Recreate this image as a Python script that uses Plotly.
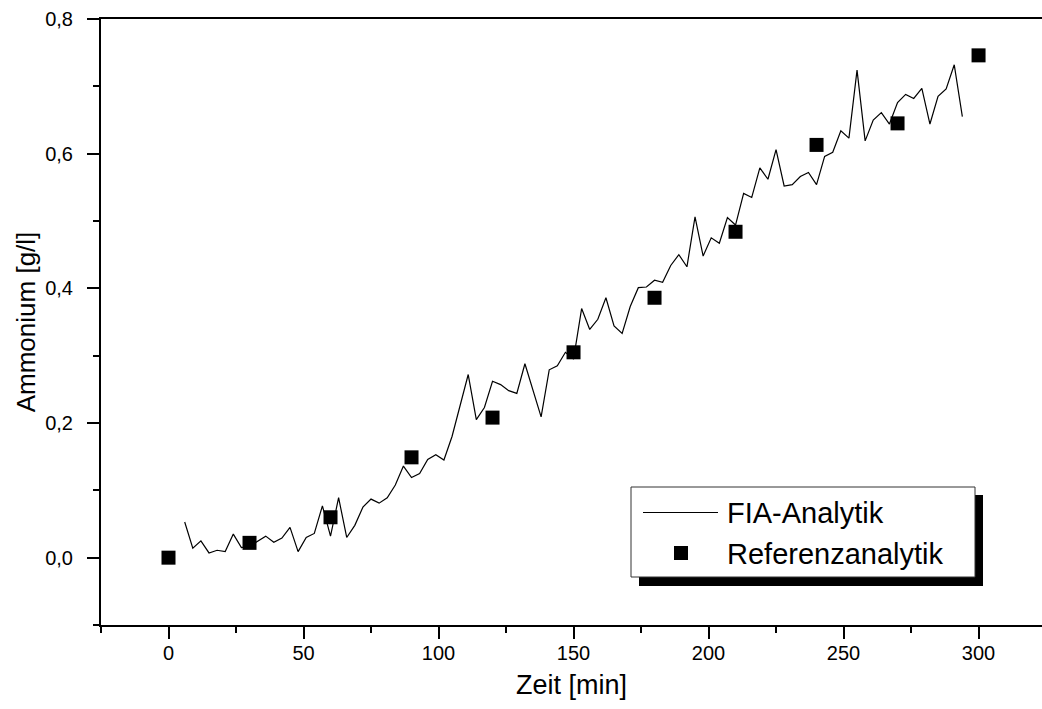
import plotly.graph_objects as go

# ---- data ----
fia_time = [6, 9, 12, 15, 18, 21, 24, 27, 30, 33, 36, 39, 42, 45, 48, 51, 54, 57, 60, 63,
            66, 69, 72, 75, 78, 81, 84, 87, 90, 93, 96, 99, 102, 105, 108, 111, 114, 117, 120, 123,
            126, 129, 132, 135, 138, 141, 144, 147, 150, 153, 156, 159, 162, 165, 168, 171, 174, 177, 180, 183,
            186, 189, 192, 195, 198, 201, 204, 207, 210, 213, 216, 219, 222, 225, 228, 231, 234, 237, 240, 243,
            246, 249, 252, 255, 258, 261, 264, 267, 270, 273, 276, 279, 282, 285, 288, 291, 294]
fia_nh4 = [0.053, 0.014, 0.025, 0.007, 0.011, 0.009, 0.035, 0.015, 0.017, 0.024,
           0.032, 0.023, 0.029, 0.045, 0.009, 0.030, 0.036, 0.077, 0.032, 0.089,
           0.030, 0.048, 0.075, 0.087, 0.081, 0.089, 0.108, 0.136, 0.119, 0.125,
           0.146, 0.153, 0.145, 0.180, 0.224, 0.272, 0.205, 0.223, 0.262, 0.257,
           0.248, 0.244, 0.288, 0.249, 0.209, 0.279, 0.285, 0.305, 0.295, 0.370,
           0.339, 0.354, 0.386, 0.344, 0.333, 0.373, 0.401, 0.402, 0.412, 0.409,
           0.434, 0.450, 0.432, 0.506, 0.448, 0.475, 0.467, 0.505, 0.494, 0.541,
           0.535, 0.579, 0.562, 0.606, 0.552, 0.554, 0.566, 0.572, 0.554, 0.596,
           0.602, 0.634, 0.623, 0.724, 0.619, 0.650, 0.661, 0.644, 0.676, 0.688,
           0.682, 0.697, 0.644, 0.685, 0.696, 0.732, 0.655]

ref_time = [0, 30, 60, 90, 120, 150, 180, 210, 240, 270, 300]
ref_nh4 = [0.000, 0.022, 0.060, 0.149, 0.208, 0.305, 0.386, 0.484, 0.613, 0.645, 0.746]

x_ticks = [0, 50, 100, 150, 200, 250, 300]
y_ticks = [0.0, 0.2, 0.4, 0.6, 0.8]
y_tick_labels = ["0,0", "0,2", "0,4", "0,6", "0,8"]

legend_names = ["FIA-Analytik", "Referenzanalytik"]
x_title = "Zeit [min]"
y_title = "Ammonium [g/l]"

# ---- layout geometry (pixels) ----
W, H = 1042, 709
L, R, T, B = 101, 0, 19, 84
PW, PH = W - L - R, H - T - B
FONT = "Liberation Sans, Arial, Helvetica, sans-serif"


def px(x):
    return (x - L) / PW


def py(y):
    return (H - B - y) / PH


fig = go.Figure()
fig.add_trace(go.Scatter(x=fia_time, y=fia_nh4, mode="lines", name=legend_names[0],
                         line=dict(color="black", width=1.2), showlegend=False))
fig.add_trace(go.Scatter(x=ref_time, y=ref_nh4, mode="markers", name=legend_names[1],
                         marker=dict(symbol="square", size=14, color="black",
                                     line=dict(width=0)), showlegend=False))

shapes = [
    # legend shadow
    dict(type="rect", xref="paper", yref="paper", x0=px(639), x1=px(983), y0=py(586), y1=py(495),
         fillcolor="black", line=dict(width=0), layer="above"),
    # legend box
    dict(type="rect", xref="paper", yref="paper", x0=px(631), x1=px(975), y0=py(577), y1=py(487),
         fillcolor="white", line=dict(color="#333333", width=1), layer="above"),
    # line sample
    dict(type="line", xref="paper", yref="paper", x0=px(643), x1=px(718), y0=py(512.5), y1=py(512.5),
         line=dict(color="black", width=1.2), layer="above"),
    # marker sample
    dict(type="rect", xref="paper", yref="paper", x0=px(674), x1=px(688), y0=py(560), y1=py(546),
         fillcolor="black", line=dict(width=0), layer="above"),
]

annotations = [
    dict(text=legend_names[0], xref="paper", yref="paper", x=px(725), y=py(513),
         xanchor="left", yanchor="middle", showarrow=False,
         font=dict(family=FONT, size=29, color="black")),
    dict(text=legend_names[1], xref="paper", yref="paper", x=px(725), y=py(554),
         xanchor="left", yanchor="middle", showarrow=False,
         font=dict(family=FONT, size=29, color="black")),
]

fig.update_layout(
    width=W, height=H,
    margin=dict(l=L, r=R, t=T, b=B),
    paper_bgcolor="white", plot_bgcolor="white",
    font=dict(family=FONT, color="black"),
    shapes=shapes, annotations=annotations,
    showlegend=False,
)

fig.update_xaxes(
    range=[-25, 323.5], tickmode="array", tickvals=x_ticks,
    ticktext=[str(v) for v in x_ticks],
    ticks="outside", ticklen=12, tickwidth=2, tickcolor="black",
    minor=dict(dtick=25, tick0=0, ticks="outside", ticklen=6, tickwidth=2, tickcolor="black"),
    showline=True, linecolor="black", linewidth=2, mirror=True,
    showgrid=False, zeroline=False,
    tickfont=dict(family=FONT, size=20, color="black"),
    ticklabelstandoff=-3,
    title=dict(text=x_title, font=dict(family=FONT, size=27, color="black"), standoff=12),
)
fig.update_yaxes(
    range=[-0.1, 0.8], tickmode="array", tickvals=y_ticks, ticktext=y_tick_labels,
    ticks="outside", ticklen=12, tickwidth=2, tickcolor="black",
    minor=dict(dtick=0.1, tick0=0, ticks="outside", ticklen=6, tickwidth=2, tickcolor="black"),
    showline=True, linecolor="black", linewidth=2, mirror=False,
    showgrid=False, zeroline=False,
    tickfont=dict(family=FONT, size=20, color="black"),
    ticklabelstandoff=10,
    title=dict(text=y_title, font=dict(family=FONT, size=26, color="black"), standoff=2),
)

fig.write_html("out.html")
